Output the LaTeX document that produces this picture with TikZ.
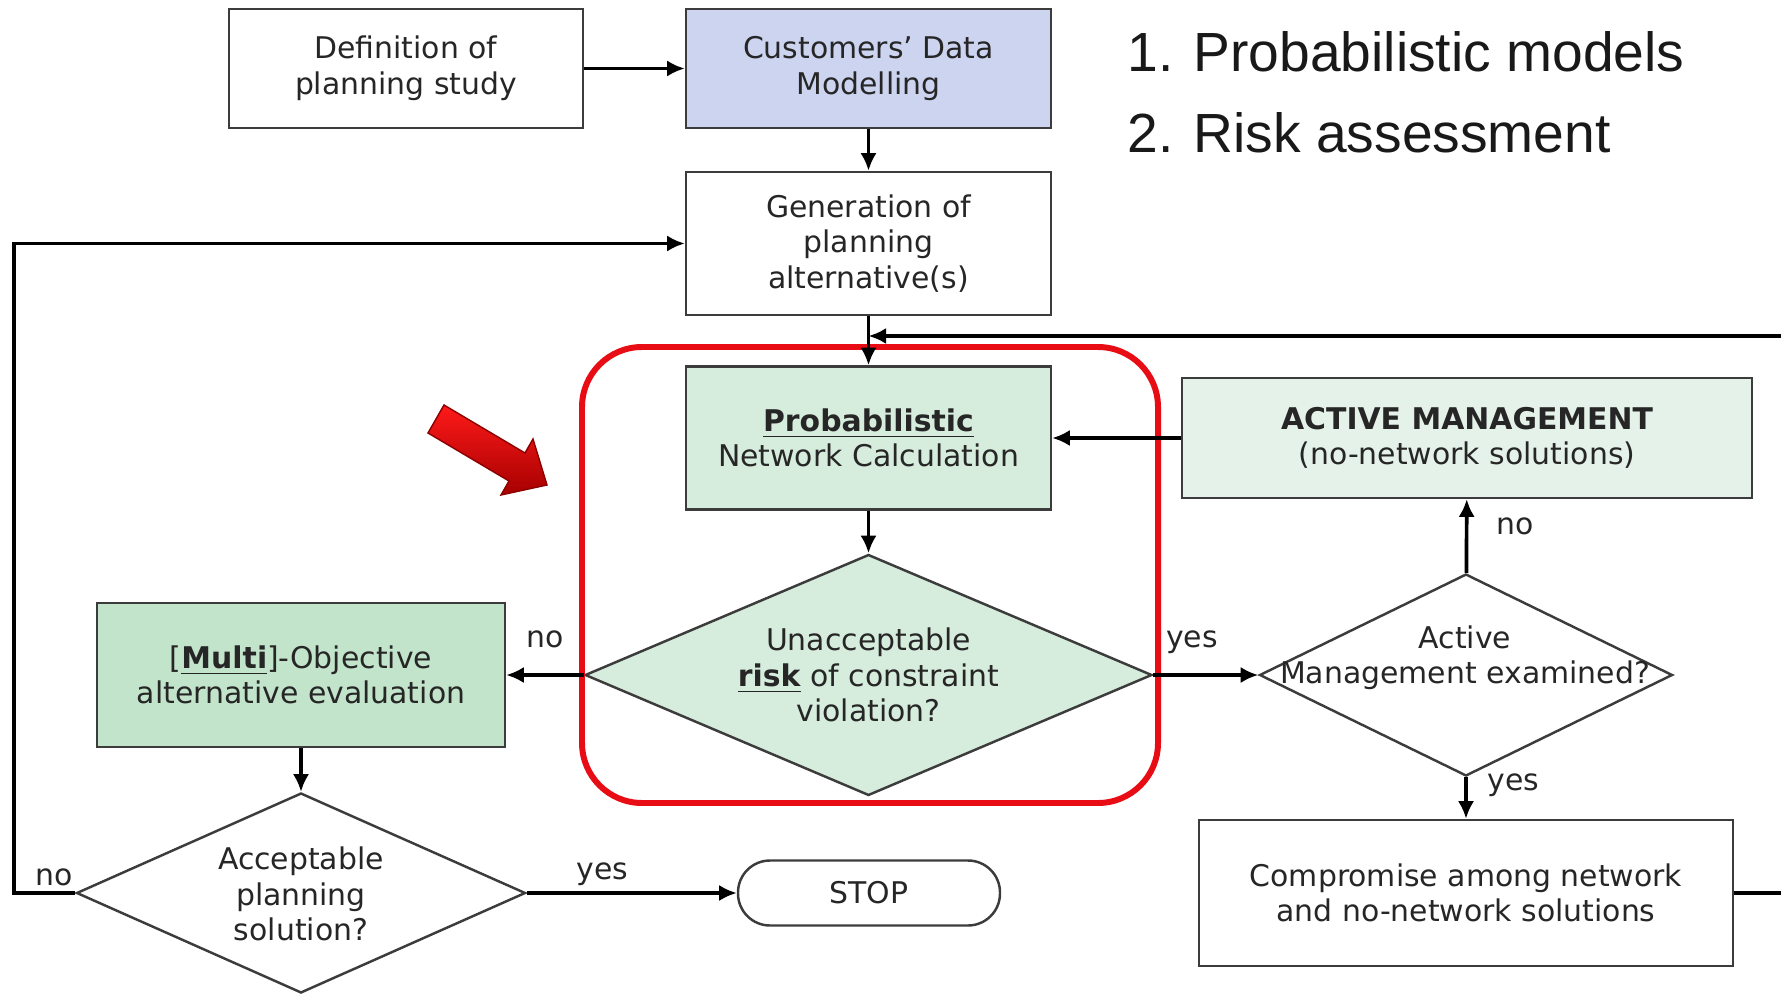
\documentclass[tikz,border=0pt]{standalone}
\usepackage{fontspec}
\newfontfamily\boxfont{DejaVu Sans}
\newfontfamily\headfont{Liberation Sans}
\usetikzlibrary{shapes}
\usetikzlibrary{positioning}
\usetikzlibrary{arrows.meta}
\definecolor{cdmblue}{RGB}{204,212,240}
\definecolor{probgreen}{RGB}{214,236,220}
\definecolor{multigreen}{RGB}{194,228,203}
\definecolor{amgreen}{RGB}{229,242,233}
\definecolor{riskred}{RGB}{232,12,20}
\definecolor{boxline}{RGB}{60,60,60}
\tikzset{
    mybox/.style = {rectangle, line width=0.7pt, draw=boxline, align=center, fill=white, inner sep=0pt, font=\boxfont\fontsize{8.5}{10.1}\selectfont, text=black!85},
    myboxb/.style = {mybox, fill=cdmblue},
    myboxg/.style = {mybox, fill=probgreen},
    myboxgd/.style = {mybox, fill=multigreen},
    myboxgl/.style = {mybox, fill=amgreen},
    mystop/.style = {mybox, rounded corners=0.32cm},
    mydiam/.style = {diamond, line width=0.7pt, draw=boxline, fill=white, inner sep=0pt},
    mydiamg/.style = {mydiam, fill=probgreen},
    mytext/.style = {align=center, font=\boxfont\fontsize{8.5}{10.1}\selectfont, text=black!85},
    mylabel/.style = {font=\boxfont\fontsize{8.5}{10.1}\selectfont, text=black!85},
    myhead/.style = {anchor=base west, inner sep=0pt, font=\headfont\fontsize{15.7}{23.3}\selectfont, text=black!90},
    edgen/.style = {-{Latex[length=5pt,width=4.6pt]}, line width=1.05pt, black},
    redframe/.style = {rectangle, rounded corners=0.6cm, line width=1.7pt, draw=riskred}, % focus
}

\begin{document}
\begin{tikzpicture}[scale=1.00,transform shape]
\useasboundingbox (0,0) rectangle (17.81,-9.96);

\node[mybox, minimum width=3.54cm, minimum height=1.19cm] at ( 4.06, -0.685) (def) {Definition of\\planning study};
\node[myboxb, minimum width=3.65cm, minimum height=1.19cm] at ( 8.685, -0.685) (cdm) {Customers’ Data\\Modelling};
\node[mybox, minimum width=3.65cm, minimum height=1.43cm] at ( 8.685, -2.435) (gen) {Generation of\\planning\\alternative(s)};
\node[myboxg, minimum width=3.65cm, minimum height=1.43cm] at ( 8.685, -4.38) (prob) {\underline{\textbf{Probabilistic}}\\Network Calculation};
\node[myboxgl, minimum width=5.70cm, minimum height=1.20cm] at (14.67, -4.38) (am) {\textbf{ACTIVE MANAGEMENT}\\(no-network solutions)};
\node[myboxgd, minimum width=4.08cm, minimum height=1.44cm] at ( 3.01, -6.75) (multi) {[\underline{\textbf{Multi}}]-Objective\\alternative evaluation};
\node[mybox, minimum width=5.34cm, minimum height=1.46cm] at (14.66, -8.93) (comp) {Compromise among network\\and no-network solutions};
\node[mystop, minimum width=2.62cm, minimum height=0.65cm] at ( 8.69, -8.93) (stop) {STOP};

\node[mydiamg, minimum width=5.67cm, minimum height=2.41cm] at ( 8.685, -6.75) (q1) {};
\node[mydiam, minimum width=4.49cm, minimum height=2.00cm] at ( 3.01, -8.93) (q2) {};
\node[mydiam, minimum width=4.13cm, minimum height=2.02cm] at (14.66, -6.75) (q3) {};
\node[mytext] at ( 8.685, -6.75) (q1t) {Unacceptable\\\underline{\textbf{risk}} of constraint\\violation?};
\node[mytext] at ( 3.01, -8.94) (q2t) {Acceptable\\planning\\solution?};
\node[mytext] at (14.65, -6.575) (q3t) {Active\\Management examined?};

\node[myhead] at (11.27, -0.72) (goal1) {\makebox[0.66cm][l]{1.}Probabilistic models};
\node[myhead] at (11.27, -1.53) (goal2) {\makebox[0.66cm][l]{2.}Risk assessment};

\node[redframe, minimum width=5.76cm, minimum height=4.56cm] at ( 8.70, -5.75) (frame) {};

\coordinate (lc) at ( 0.14, -8.93);
\coordinate (rc) at (17.95, -3.36);
\coordinate (joint) at ( 8.685, -3.36);

\draw[edgen] (def) -- (cdm);
\draw[edgen] (cdm) -- (gen);
\draw[edgen] (gen) -- (prob);
\draw[edgen] (prob) -- (q1);
\draw[edgen] (q1) -- node[mylabel, above=1.4mm] {no} (multi);
\draw[edgen] (q1) -- node[mylabel, above=0.8mm, pos=0.37] {yes} (q3);
\draw[edgen] (q3) -- node[mylabel, right=1.6mm, pos=0.63] {no} (am);
\draw[edgen] (q3) -- node[mylabel, right=0.8mm, pos=0.2] {yes} (comp);
\draw[edgen] (am) -- (prob);
\draw[edgen] (multi) -- (q2);
\draw[edgen] (q2) -- node[mylabel, above, yshift=-0.6mm, pos=0.36] {yes} (stop);
\draw[edgen] (q2) -- node[mylabel, above, yshift=-0.6mm, pos=0.35] {no} (lc) |- (gen); % back
\draw[edgen] (comp) -| (rc) -- (joint); % back

% pointer
\draw[draw=red!55!black, line width=0.4pt, top color=red!90!white, bottom color=red!65!black]
  (4.44,-4.05) -- (5.25,-4.53) -- (5.33,-4.39) -- (5.47,-4.85) -- (5.01,-4.95) -- (5.09,-4.81) -- (4.28,-4.33) -- cycle;

\end{tikzpicture}
\end{document}
